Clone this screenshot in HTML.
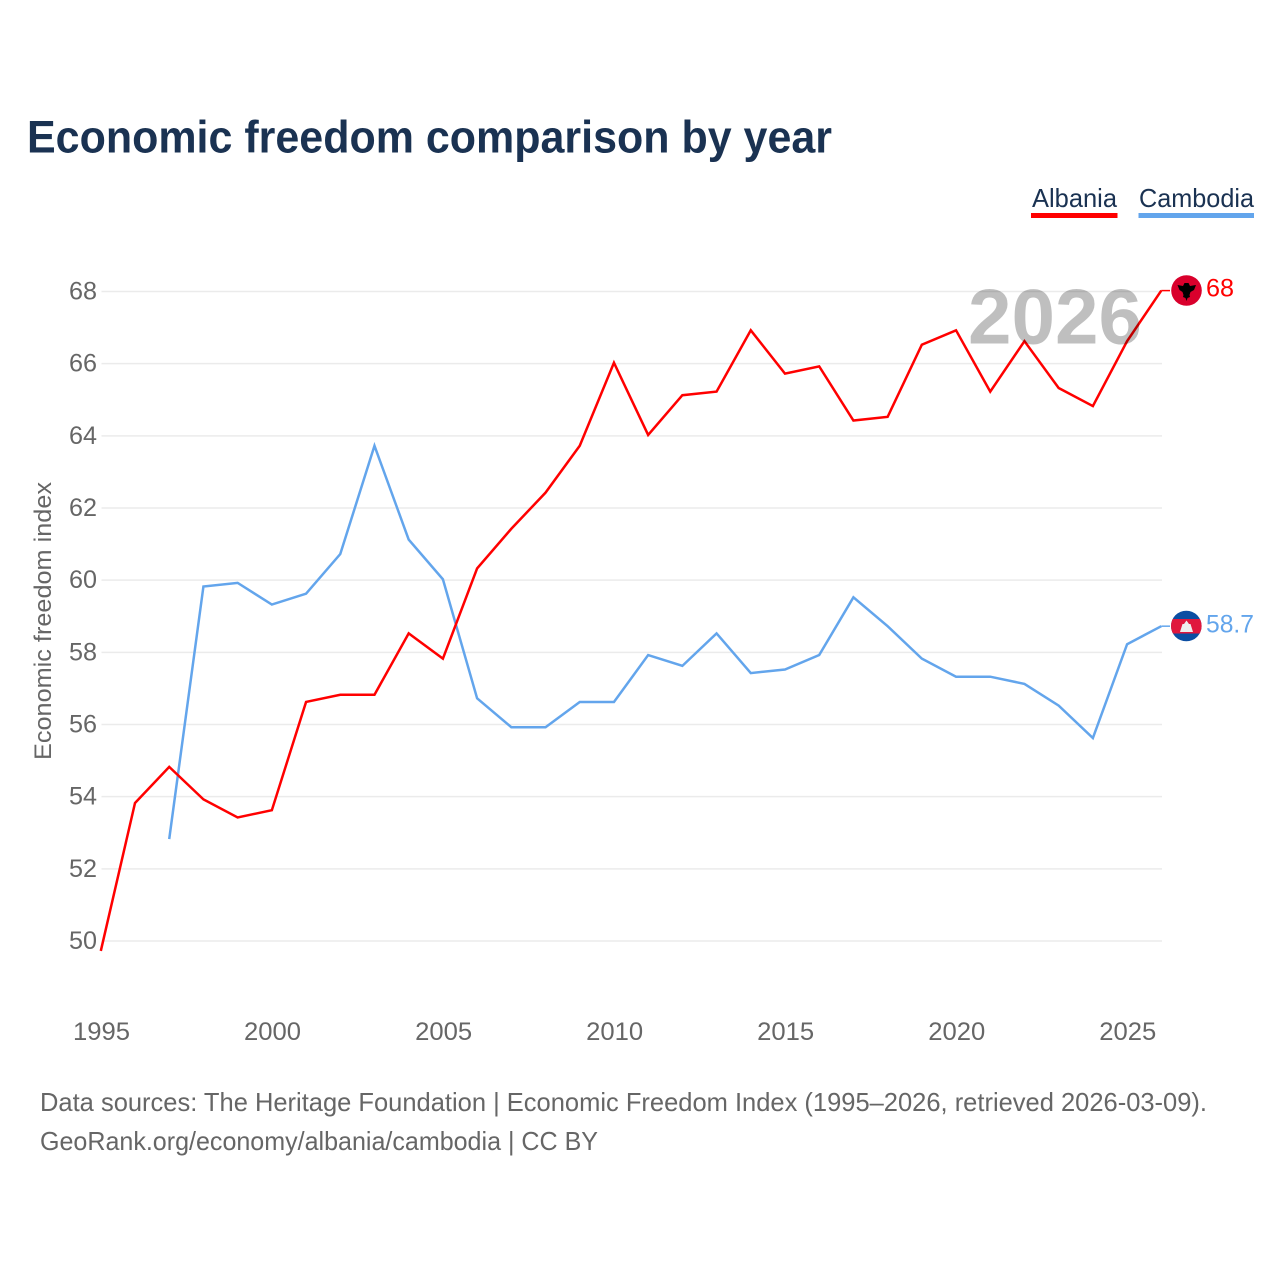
<!DOCTYPE html>
<html lang="en">
<head>
<meta charset="utf-8">
<title>Economic freedom comparison by year</title>
<style>
html,body{margin:0;padding:0;background:#fff;}
svg{display:block;font-family:"Liberation Sans",sans-serif;}
</style>
</head>
<body>
<svg id="chart" width="1280" height="1280" viewBox="0 0 1280 1280" xmlns="http://www.w3.org/2000/svg">
  <rect x="0" y="0" width="1280" height="1280" fill="#fff"/>
  <text x="27" y="152.5" font-size="45" font-weight="700" fill="#1a3252" textLength="805" lengthAdjust="spacingAndGlyphs">Economic freedom comparison by year</text>

  <g>
    <g>
      <text x="1032" y="207" font-size="26" fill="#1a3252" textLength="85" lengthAdjust="spacingAndGlyphs">Albania</text>
      <rect x="1031" y="213" width="86.5" height="5" fill="#ff0000"/>
    </g>
    <g>
      <text x="1139" y="207" font-size="26" fill="#1a3252" textLength="115" lengthAdjust="spacingAndGlyphs">Cambodia</text>
      <rect x="1138.5" y="213" width="115.5" height="5" fill="#63a5ec"/>
    </g>
  </g>

  <g id="grid"></g>
  <g id="yticks"></g>
  <g id="xticks"></g>
  <text transform="translate(51 621) rotate(-90)" text-anchor="middle" font-size="24.5" fill="#666" textLength="278" lengthAdjust="spacingAndGlyphs">Economic freedom index</text>
  <g id="series"></g>
  <text x="968" y="343.5" font-size="78" font-weight="700" fill="#000" fill-opacity="0.25" textLength="174" lengthAdjust="spacingAndGlyphs">2026</text>

  <g>
    <circle cx="1186.5" cy="290.5" r="15.3" fill="#d9002c"/>
    <path d="M1177.5 285 L1183 286 L1184.5 283 L1188.5 283 L1190 286 L1196 285 L1194 290 L1190.5 292 L1189.5 295 L1190 297 L1187.5 298 L1186.5 301 L1185.5 298 L1183 297 L1183.5 295 L1182.5 292 L1179.5 290 Z" fill="#000"/>
  </g>
  <g>
    <clipPath id="clip-kh"><circle cx="1186.3" cy="626" r="15.3"/></clipPath>
    <g clip-path="url(#clip-kh)">
      <rect x="1170" y="610" width="33" height="33" fill="#0b4ea2"/>
      <rect x="1170" y="619" width="33" height="14.5" fill="#e0173d"/>
      <path d="M1186.5 620.5 L1189 624 L1190.5 624 L1193 632 L1180 632 L1182.5 624 L1184 624 Z" fill="#eee"/>
    </g>
  </g>
  <text x="1206" y="296.5" font-size="25" fill="#ff0000" textLength="28" lengthAdjust="spacingAndGlyphs">68</text>
  <text x="1206" y="632.5" font-size="25" fill="#63a5ec" textLength="48" lengthAdjust="spacingAndGlyphs">58.7</text>

  <text x="40" y="1111" font-size="26" fill="#666" textLength="1167" lengthAdjust="spacingAndGlyphs">Data sources: The Heritage Foundation | Economic Freedom Index (1995–2026, retrieved 2026-03-09).</text>
  <text x="40" y="1150" font-size="26" fill="#666" textLength="558" lengthAdjust="spacingAndGlyphs">GeoRank.org/economy/albania/cambodia | CC BY</text>
</svg>
<script>
const yTickValues = [50, 52, 54, 56, 58, 60, 62, 64, 66, 68];
const xTickValues = [1995, 2000, 2005, 2010, 2015, 2020, 2025];
const albaniaYears = [1995,1996,1997,1998,1999,2000,2001,2002,2003,2004,2005,2006,2007,2008,2009,2010,2011,2012,2013,2014,2015,2016,2017,2018,2019,2020,2021,2022,2023,2024,2025,2026];
const albaniaValues = [49.7,53.8,54.8,53.9,53.4,53.6,56.6,56.8,56.8,58.5,57.8,60.3,61.4,62.4,63.7,66.0,64.0,65.1,65.2,66.9,65.7,65.9,64.4,64.5,66.5,66.9,65.2,66.6,65.3,64.8,66.6,68.0];
const cambodiaYears = [1997,1998,1999,2000,2001,2002,2003,2004,2005,2006,2007,2008,2009,2010,2011,2012,2013,2014,2015,2016,2017,2018,2019,2020,2021,2022,2023,2024,2025,2026];
const cambodiaValues = [52.8,59.8,59.9,59.3,59.6,60.7,63.7,61.1,60.0,56.7,55.9,55.9,56.6,56.6,57.9,57.6,58.5,57.4,57.5,57.9,59.5,58.7,57.8,57.3,57.3,57.1,56.5,55.6,58.2,58.7];

const NS = 'http://www.w3.org/2000/svg';
function xScale(year) { return 101.5 + (year - 1995) * (1162 - 101.5) / 31; }
function yScale(value) { return 941 + (value - 50) * (291.5 - 941) / 18; }
function lineX(year) { return xScale(year) - 0.7; }
function lineY(value) { return yScale(value) - 0.9; }
function make(tag, attrs, parent) {
  const el = document.createElementNS(NS, tag);
  for (const k in attrs) el.setAttribute(k, attrs[k]);
  parent.appendChild(el);
  return el;
}
const grid = document.getElementById('grid');
const yticks = document.getElementById('yticks');
const xticks = document.getElementById('xticks');
const series = document.getElementById('series');

yTickValues.forEach(function (v) {
  const line = make('line', {x1: 101.5, x2: 1162, y1: yScale(v), y2: yScale(v), stroke: '#ebebeb', 'stroke-width': 1.5}, grid);
  
  
  const label = make('text', {x: 97, y: yScale(v) + 8, 'text-anchor': 'end', 'font-size': 25, fill: '#666', textLength: 28, lengthAdjust: 'spacingAndGlyphs'}, yticks);
  
  
  label.textContent = v;
});

xTickValues.forEach(function (y) {
  const label = make('text', {x: xScale(y), y: 1040, 'text-anchor': 'middle', 'font-size': 25, fill: '#666', textLength: 57, lengthAdjust: 'spacingAndGlyphs'}, xticks);
  
  
  label.textContent = y;
});

function drawLine(years, values, color) {
  const pts = years.map(function (y, i) { return lineX(y).toFixed(2) + ',' + lineY(values[i]).toFixed(2); });
  return make('polyline', {points: pts.join(' '), fill: 'none', stroke: color, 'stroke-width': 2.5, 'stroke-linejoin': 'miter'}, series);
}
function drawConnector(years, values, color) {
  const last = years.length - 1;
  return make('line', {x1: lineX(years[last]), y1: lineY(values[last]), x2: 1170, y2: lineY(values[last]), stroke: color, 'stroke-width': 1.5}, series);
}

const cambodiaLine = drawLine(cambodiaYears, cambodiaValues, '#63a5ec');


const albaniaLine = drawLine(albaniaYears, albaniaValues, '#ff0000');


const cambodiaConnector = drawConnector(cambodiaYears, cambodiaValues, '#63a5ec');


const albaniaConnector = drawConnector(albaniaYears, albaniaValues, '#ff0000');


</script>
</body>
</html>
